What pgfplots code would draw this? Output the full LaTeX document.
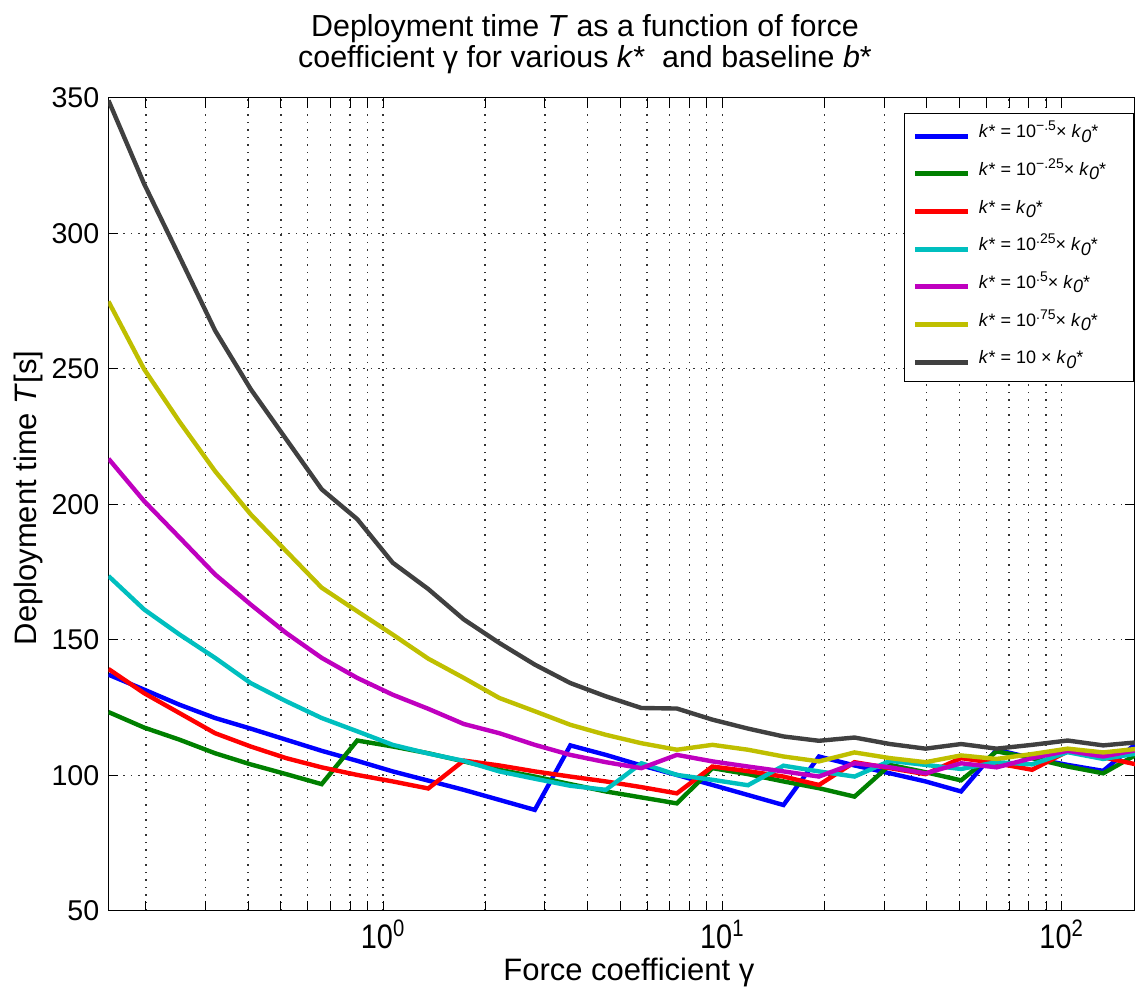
\documentclass[border=0pt]{standalone}
\usepackage{fontspec}
\setmainfont{Liberation Sans}
\usepackage{pgfplots}
\usepackage{pgfplotstable}
\pgfplotsset{compat=1.18}

\definecolor{cB}{rgb}{0,0,1}
\definecolor{cG}{rgb}{0,0.5,0}
\definecolor{cR}{rgb}{1,0,0}
\definecolor{cC}{rgb}{0,0.75,0.75}
\definecolor{cM}{rgb}{0.75,0,0.75}
\definecolor{cY}{rgb}{0.75,0.75,0}
\definecolor{cK}{rgb}{0.25,0.25,0.25}

% deployment time T [s] against force coefficient gamma, one column per k*
\pgfplotstableread{
g        m50    m25    z0     p25    p50    p75    p100
0.1552   137.1  123.3  139.2  173.5  216.8  274.8  349.0
0.1975   131.6  117.6  130.3  161.2  201.2  249.9  318.3
0.2514   126.0  113.1  122.9  151.9  187.7  230.4  291.3
0.3199   121.1  108.1  115.5  143.3  174.1  212.2  264.1
0.4072   117.2  104.0  110.6  134.0  163.0  196.3  242.5
0.5182   113.1  100.4  106.3  127.3  152.5  182.7  224.0
0.6596   109.0   96.7  102.9  121.1  143.3  169.2  205.5
0.8395   105.3  112.8  100.1  116.2  135.9  160.5  194.5
1.0681   101.4  110.6   97.7  111.2  129.7  151.9  178.4
1.3594    98.0  108.1   95.1  108.0  124.5  143.0  168.7
1.7298    94.6  105.1  105.4  105.3  118.9  135.9  157.5
2.2014    90.9  102.0  103.6  101.4  115.5  128.5  148.8
2.8016    87.2   99.5  101.4   98.7  111.2  123.6  140.8
3.5653   111.0   96.7   99.5   96.1  107.5  118.6  134.0
4.5374   107.5   94.0   97.7   94.6  104.8  114.9  129.1
5.7744   103.6   91.8   95.6  104.4  102.6  111.8  124.8
7.3484   100.1   89.6   93.3  100.1  107.5  109.4  124.6
9.3522    96.4  102.6  103.2   98.3  105.1  111.2  120.5
11.902    92.7  100.4  101.5   96.3  103.2  109.4  117.2
15.147    89.0   97.7   99.5  103.5  101.4  106.9  114.3
19.275   106.9   95.2   96.4  101.4   99.5  105.1  112.7
24.532   103.6   92.1  104.8   99.5  104.4  108.4  113.9
31.219   100.7  103.8  102.6  105.3  102.9  106.3  111.5
39.728    97.7  101.1  100.4  103.8  100.7  104.8  109.8
50.558    94.0   98.1  106.3  102.3  104.4  107.3  111.5
64.343   109.4  108.8  104.4  104.8  102.9  106.0  109.8
81.874   106.3  106.3  102.0  104.0  106.3  107.8  111.2
104.21   103.8  103.2  108.8  108.5  109.0  109.8  112.8
132.62   101.6  100.7  106.6  106.0  106.9  108.4  111.0
168.8    112.5  108.1  103.8  108.1  109.4  109.8  112.2
}\Tdata

\newcommand{\kst}{\textit{k}*}
\newcommand{\kz}{\textit{k}\raisebox{-0.45ex}{\textit{0}}*}
\newcommand{\sexp}[1]{\raisebox{0.75ex}{\scriptsize #1}}

\begin{document}
\begin{tikzpicture}
\begin{axis}[
  at={(0pt,0pt)}, anchor=south west,
  scale only axis, width=513.35pt, height=406.5pt,
  xmode=log, xmin=0.1550, xmax=164.6, ymin=50, ymax=350,
  xtick={1,10,100},
  xticklabels={10\textsuperscript{0},10\textsuperscript{1},10\textsuperscript{2}},
  minor xtick={0.2,0.3,0.4,0.5,0.6,0.7,0.8,0.9,2,3,4,5,6,7,8,9,20,30,40,50,60,70,80,90},
  ytick={50,100,150,200,250,300,350},
  tick align=inside, tickwidth=5pt, subtickwidth=5pt,
  major tick style={black, line width=0.5pt},
  minor tick style={black, line width=0.5pt},
  axis line style={black, line width=0.6pt},
  grid=both,
  major grid style={black!80, line width=0.65pt, dash pattern=on 0.65pt off 3.1pt},
  minor grid style={black!80, line width=0.65pt, dash pattern=on 0.65pt off 3.1pt},
  /pgf/number format/assume math mode=true,
  yticklabel style={font=\fontsize{14.3}{16}\selectfont, xshift=-1pt},
  xticklabel style={font=\fontsize{17}{19}\selectfont, xscale=0.85, yshift=-1pt},
  xlabel={Force coefficient γ},
  ylabel={Deployment time \textit{T}[s]},
  label style={font=\fontsize{15.5}{17}\selectfont},
  xlabel style={at={(axis description cs:0.507,-0.0754)}, anchor=center},
  ylabel style={at={(axis description cs:-0.078,0.5076)}, anchor=center},
  title={Deployment time \textit{T} as a function of force\\coefficient γ for various \kst\ \ and baseline \textit{b}*},
  title style={font=\fontsize{15.2}{15.5}\selectfont, align=center,
    at={(axis description cs:0.4643,1.0506)}, anchor=center},
  legend style={at={(axis description cs:0.999,0.9815)}, anchor=north east,
    draw=black, line width=0.6pt, fill=white,
    font=\fontsize{9}{10}\selectfont,
    inner xsep=4pt, inner ysep=1pt, row sep=0pt,
    nodes={inner xsep=4pt, inner ysep=0pt, text height=11.2pt, text depth=7.65pt}},
  legend cell align=left,
  legend image code/.code={\draw[#1, line width=2.5pt] (0pt,-1pt) -- (26.5pt,-1pt);},
  every axis plot/.append style={line width=2.2pt},
]
\addplot[cB] table[x=g, y=m50] {\Tdata};
\addlegendentry{\makebox[69.25pt][l]{\kst\ = 10\sexp{−.5}× \kz}}
\addplot[cG] table[x=g, y=m25] {\Tdata};
\addlegendentry{\makebox[69.25pt][l]{\kst\ = 10\sexp{−.25}× \kz}}
\addplot[cR] table[x=g, y=z0] {\Tdata};
\addlegendentry{\makebox[69.25pt][l]{\kst\ = \kz}}
\addplot[cC] table[x=g, y=p25] {\Tdata};
\addlegendentry{\makebox[69.25pt][l]{\kst\ = 10\sexp{.25}× \kz}}
\addplot[cM] table[x=g, y=p50] {\Tdata};
\addlegendentry{\makebox[69.25pt][l]{\kst\ = 10\sexp{.5}× \kz}}
\addplot[cY] table[x=g, y=p75] {\Tdata};
\addlegendentry{\makebox[69.25pt][l]{\kst\ = 10\sexp{.75}× \kz}}
\addplot[cK] table[x=g, y=p100] {\Tdata};
\addlegendentry{\makebox[69.25pt][l]{\kst\ = 10 × \kz}}
\end{axis}
\pgfresetboundingbox
\path[use as bounding box] (-54.15pt,-40.65pt) rectangle (513.35pt,455.35pt);
\end{tikzpicture}
\end{document}
